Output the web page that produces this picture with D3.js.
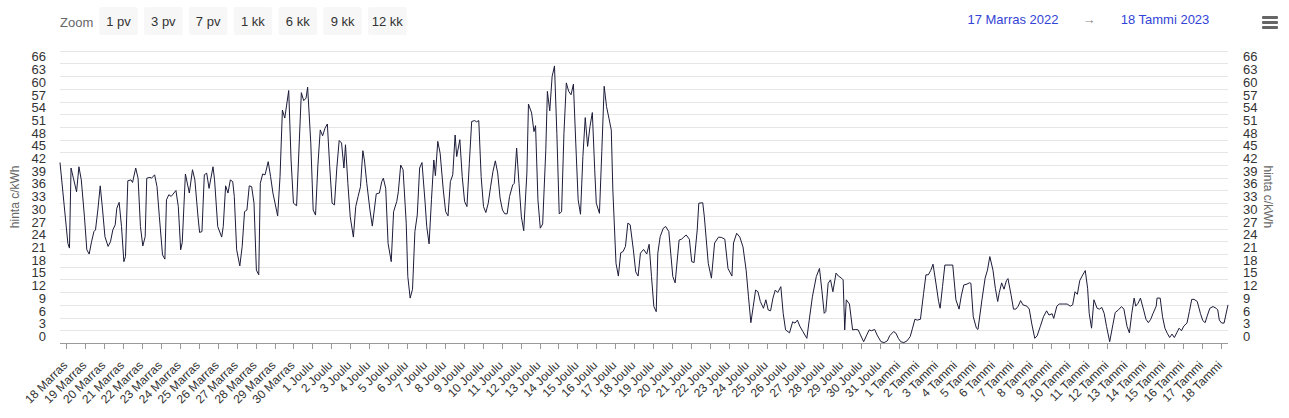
<!DOCTYPE html>
<html><head><meta charset="utf-8">
<script src="https://cdn.jsdelivr.net/npm/d3@7"></script>
<style>
html,body{margin:0;padding:0;background:#fff;}
svg{display:block;font-family:"Liberation Sans",Arial,Helvetica,sans-serif;}
</style></head><body>
<svg id="chart" width="1289" height="418"></svg>
<script>
// ---------- data ----------
const monthNames = ["Tammi","Helmi","Maalis","Huhti","Touko","Kesä","Heinä","Elo","Syys","Loka","Marras","Joulu"];
const zoomButtons = ["1 pv","3 pv","7 pv","1 kk","6 kk","9 kk","12 kk"];
const rangeFrom = "17 Marras 2022";
const rangeTo = "18 Tammi 2023";
const axisTitle = "hinta c/kWh";
const yTickValues = [0,3,6,9,12,15,18,21,24,27,30,33,36,39,42,45,48,51,54,57,60,63,66];
const yGridValues = [0,3,6,9,12,15,18,21,24,27,30,33,36,39,42,45,48,51,54,57,60,63,66,69];
// hours after 18 Marras 2022 00:00
const hours = [-8,2,4,6,9,13,16,19,23,26,29,32,35,37,40,43,46,49,53,56,59,62,64,67,70,73,75,78,82,84,88,91,94,97,100,102,106,108,112,115,118,122,125,127,130,133,139,142,145,147,151,156,160,163,167,169,172,175,178,181,186,188,192,197,199,202,205,208,211,213,216,220,223,226,229,232,235,238,241,244,246,249,252,256,259,262,268,271,274,277,282,285,288,292,298,301,304,306,310,313,316,319,322,325,328,331,334,337,340,343,346,349,352,354,357,360,364,367,370,373,376,378,381,385,388,393,397,400,402,405,408,412,415,419,421,424,427,431,433,436,439,442,445,448,451,455,457,460,463,466,468,471,474,478,481,484,487,490,493,495,499,502,505,508,511,514,518,520,523,526,529,532,535,538,541,544,547,550,553,556,559,562,566,568,571,574,577,580,584,586,590,593,595,598,601,604,608,610,613,616,619,622,625,628,631,634,637,640,643,646,649,652,655,658,661,664,667,670,672,676,679,682,685,688,691,693,697,700,703,706,709,712,715,719,722,725,728,732,736,739,742,745,748,750,753,757,760,764,769,772,777,780,783,786,790,793,796,800,802,807,809,814,818,822,827,831,835,839,844,846,850,854,858,862,865,868,871,874,877,880,884,887,890,893,896,899,902,906,909,912,917,921,924,927,930,934,939,942,946,951,955,958,961,963,966,969,972,976,979,983,985,987,989,993,997,1001,1004,1007,1011,1015,1018,1021,1025,1028,1033,1037,1041,1044,1049,1052,1055,1058,1062,1066,1070,1073,1076,1079,1083,1087,1090,1093,1096,1099,1103,1106,1108,1111,1114,1118,1124,1128,1132,1135,1138,1142,1145,1147,1150,1154,1156,1161,1165,1168,1171,1175,1178,1181,1183,1186,1189,1192,1194,1198,1201,1204,1207,1210,1213,1218,1221,1224,1228,1231,1235,1239,1243,1246,1250,1252,1256,1259,1264,1269,1273,1276,1279,1282,1285,1288,1292,1295,1297,1300,1303,1307,1310,1313,1316,1319,1323,1327,1330,1334,1338,1341,1345,1348,1351,1354,1356,1359,1362,1366,1369,1372,1375,1378,1382,1383,1387,1390,1393,1396,1399,1402,1405,1408,1411,1414,1417,1421,1424,1427,1430,1434,1438,1441,1444,1447,1450,1454,1458,1460,1462,1465,1468,1473];
const prices = [42.6,23.5,22.4,41.3,38.9,35.7,41.6,38.5,29.8,22,21,23.9,26.3,26.7,31.4,37.1,31.4,25.1,22.8,23.9,26.7,27.9,31.8,33.2,27.5,19.2,20.4,38.3,38.5,37.9,41.3,38.9,27.5,22.9,25.1,38.9,39.1,38.9,39.7,36.9,29.8,20.8,19.8,33.8,35,34.6,36,32.2,22,23.7,39.9,35.4,40.9,38.5,29.8,26.1,26.3,39.7,40.1,36.5,41.6,38.5,27.5,25,27.5,37.1,35.4,38.5,38.1,34.6,22,18.2,22.8,31,31.4,37.1,36.9,33,17.2,16.1,37.7,39.9,39.7,42.8,39.3,35.4,30,39.3,55,53.1,59.6,43.2,33,32.4,59.1,57.2,57.8,60.4,47.2,31.4,30.2,42,50.3,48.9,50.7,51.7,41.6,33,32.6,41.3,47.8,47.2,41.3,46.8,37.7,29.8,25,32.2,34.6,36.9,45.4,43.2,37.7,31.4,27.6,35.2,35.4,38.1,38.9,36.5,23.5,19.2,31,33.4,35.7,42,40.9,28.3,15.7,10.6,12.7,26.3,30.2,41.3,42.6,33,27.5,23.4,33.8,43.2,39.5,47.6,44.8,36.1,31,30,38.1,39.7,49.1,44,48,39.3,33.4,32.2,42.4,52.3,52.5,52.2,52.5,39.3,32.2,30.8,33,36.9,40.5,43,40.1,34.2,31.4,30.5,30.5,34.6,37.3,37.7,46,37.7,29.8,26.5,40.1,56.4,54.3,49.9,51.3,33.8,27.1,28.1,45.6,59.4,54.8,62.9,65.4,49.5,30.5,31,49.5,61.4,59.4,58.6,61.1,47.2,33.8,30.4,44,53.2,46.4,51.1,54.4,40.9,33,30.6,45.2,60.6,55.8,53.1,50.3,36.1,18.8,15.8,21.3,21.6,22.8,28.3,27.9,22,16.8,15.8,21.2,22.1,21,23.3,15.7,8.6,7.4,21.2,25.1,27.1,27.5,26.3,15.7,14.2,24.3,24.5,25,25.5,24.5,19.2,19,26.7,33,33.1,29.8,18.8,15.3,23.6,25,24.9,24.5,17.6,15.8,23.6,25.9,25,22.7,17.2,10.9,4.8,8.6,12.5,12.1,9.8,8.2,10.2,7.8,7.6,10.6,12.5,11.9,13.3,7,3.1,2.4,5,4.7,5.4,4,2.7,1.1,5.4,10.9,15.7,17.6,12.5,7,7.4,14.1,14.9,12.1,16.5,15.8,15.3,14.9,3.1,10.2,9.2,3.1,3.2,3.1,1.9,0.3,1.9,3.1,2.9,3.2,1.9,0.3,0.1,0.5,1.7,2.7,2.3,1.1,0.3,0.1,0.5,1.5,3.5,5.6,5.4,5.6,11.7,16.1,16.1,17.1,18.6,13.7,9.8,8.2,13.3,18.4,18.4,18.4,10.2,8,11.3,13.7,13.9,14.2,14.1,6.2,3.5,3.2,10.2,15.3,17.2,20.4,17.2,12.9,9.8,11.9,14.2,12.7,14.7,15.2,11.3,8,8,8.7,10,9,8.7,8,4.7,1.1,1.7,3.9,6.2,7.6,6.6,6.9,5.8,8.7,9.2,9.2,9.2,8.7,9,12.1,11.5,14.7,15.8,17.1,12.9,7,3.5,10.2,8.2,8,8.4,7,3.9,0.3,4.3,7.2,7.8,8.6,8,3.9,2.4,7,10.6,8.7,9.4,10.6,7.8,5.6,4.8,5.6,7,8.7,10.6,10.6,6.2,3.5,2.3,1.3,2.1,1.3,2.4,3.5,2.9,4,4.7,7.4,10.3,10.3,9.8,7,5.3,4.8,6.6,8.2,8.6,8.2,7.8,5.4,4.7,4.7,9];
const baseTime = Date.UTC(2022, 10, 18);

// ---------- chart ----------
const data = hours.map((h, i) => ({t: new Date(baseTime + h * 3600e3), v: prices[i]}));
const m = {left: 60, right: 1228, top: 50.7, bottom: 343};
const svg = d3.select("#chart");

const x = d3.scaleUtc().domain(d3.extent(data, d => d.t)).range([m.left, m.right]);
const y = d3.scaleLinear().domain([0, 69]).range([m.bottom, m.top]);

// grid
svg.append("g").selectAll("line").data(yGridValues).join("line")
  .attr("x1", m.left).attr("x2", m.right)
  .attr("y1", d => Math.round(y(d)) + 0.5).attr("y2", d => Math.round(y(d)) + 0.5)
  .attr("stroke", "#e6e6e6").attr("stroke-width", 1);

// left & right y labels
const yl = svg.append("g").attr("font-size", 13).attr("fill", "#333");
yl.selectAll("text.l").data(yTickValues).join("text").attr("class", "l")
  .attr("x", 46).attr("y", d => y(d) - 2).attr("text-anchor", "end").text(d => d);
yl.selectAll("text.r").data(yTickValues).join("text").attr("class", "r")
  .attr("x", 1243).attr("y", d => y(d) - 2).attr("text-anchor", "start").text(d => d);

const midY = (m.top + m.bottom) / 2;
svg.append("text").attr("transform", `translate(19,${midY}) rotate(-90)`)
  .attr("text-anchor", "middle").attr("font-size", 12).attr("fill", "#666").text(axisTitle);
svg.append("text").attr("transform", `translate(1264,${midY}) rotate(90)`)
  .attr("text-anchor", "middle").attr("font-size", 12).attr("fill", "#666").text(axisTitle);

// x axis
const dayTicks = d3.utcDay.range(d3.utcDay.ceil(x.domain()[0]), x.domain()[1]);
const xa = svg.append("g");
xa.append("line").attr("x1", m.left).attr("x2", m.right)
  .attr("y1", Math.round(m.bottom) + 0.5).attr("y2", Math.round(m.bottom) + 0.5)
  .attr("stroke", "#999");
xa.selectAll("line.t").data(dayTicks).join("line").attr("class", "t")
  .attr("x1", d => Math.round(x(d)) + 0.5).attr("x2", d => Math.round(x(d)) + 0.5)
  .attr("y1", Math.round(m.bottom)).attr("y2", Math.round(m.bottom) + 6)
  .attr("stroke", "#999");
xa.selectAll("text").data(dayTicks).join("text")
  .attr("transform", d => `translate(${x(d) + 2},${m.bottom + 23}) rotate(-45)`)
  .attr("text-anchor", "end").attr("font-size", 12).attr("fill", "#333")
  .text(d => `${d.getUTCDate()} ${monthNames[d.getUTCMonth()]}`);

// line
svg.append("path").datum(data)
  .attr("d", d3.line().x(d => x(d.t)).y(d => y(d.v)))
  .attr("fill", "none").attr("stroke", "#1c1c3a").attr("stroke-width", 1)
  .attr("stroke-linejoin", "round");

// range selector
const rs = svg.append("g");
rs.append("text").attr("x", 60).attr("y", 27).attr("font-size", 13).attr("fill", "#666").text("Zoom");
const bg = rs.selectAll("g.b").data(zoomButtons).join("g").attr("class", "b")
  .attr("transform", (d, i) => `translate(${99.3 + i * 44.8},7)`);
bg.append("rect").attr("width", 38.5).attr("height", 28).attr("rx", 2).attr("fill", "#f7f7f7");
bg.append("text").attr("x", 19.25).attr("y", 19).attr("text-anchor", "middle")
  .attr("font-size", 13).attr("fill", "#333").text(d => d);

rs.append("text").attr("x", 1013).attr("y", 24).attr("text-anchor", "middle").attr("font-size", 13)
  .attr("fill", "#3343d6").text(rangeFrom);
rs.append("text").attr("x", 1089).attr("y", 24).attr("text-anchor", "middle").attr("font-size", 13)
  .attr("fill", "#888").text("→");
rs.append("text").attr("x", 1165).attr("y", 24).attr("text-anchor", "middle").attr("font-size", 13)
  .attr("fill", "#3343d6").text(rangeTo);

// menu icon
svg.append("g").selectAll("rect").data([0, 1, 2]).join("rect")
  .attr("x", 1262).attr("y", d => 16 + d * 5).attr("width", 16).attr("height", 3)
  .attr("rx", 1).attr("fill", "#666");
</script>
</body></html>
